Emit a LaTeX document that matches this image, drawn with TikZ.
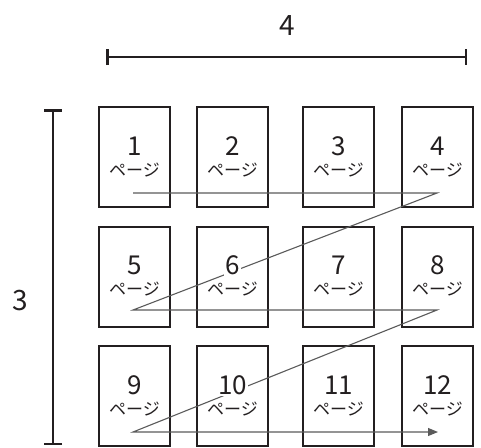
\documentclass[tikz,border=0pt]{standalone}
\usepackage{fontspec}
\setmainfont{Noto Sans CJK JP}
\usetikzlibrary{arrows.meta}
\definecolor{ink}{HTML}{231F20}
\definecolor{zig}{HTML}{5A5A5A}
\begin{document}
\begin{tikzpicture}[x=1pt,y=-1pt,
  page/.style={draw=ink,line width=2pt,minimum width=71pt,minimum height=100pt,inner sep=0pt},
  num/.style={font=\fontsize{26}{26}\selectfont,fill=white,inner sep=1.5pt,text=ink},
  pg/.style={font=\fontsize{17}{17}\selectfont,text=ink,inner sep=0pt},
  dim/.style={draw=ink,line width=2.5pt},
  dimlabel/.style={font=\fontsize{28}{28}\selectfont,text=ink},
  zigline/.style={draw=zig,line width=1.1pt}]
\useasboundingbox (0,0) rectangle (481,447);
% dimension lines
\coordinate (t1) at (106,57);
\coordinate (t2) at (467,57);
\draw[dim,{Bar[width=16pt]}-{Bar[width=16pt]}] (t1) -- (t2);
\node[dimlabel] (lab4) at (287,26) {4};
\coordinate (l1) at (53,109);
\coordinate (l2) at (53,445);
\draw[dim,{Bar[width=18pt]}-{Bar[width=18pt]}] (l1) -- (l2);
\node[dimlabel] (lab3) at (20,301) {3};
% pages
\foreach \i/\x/\y in {1/134.5/157,2/232.5/157,3/338.5/157,4/437.5/157,
                      5/134.5/276.5,6/232.5/276.5,7/338.5/276.5,8/437.5/276.5,
                      9/134.5/396,10/232.5/396,11/338.5/396,12/437.5/396}{
  \node[page] (b\i) at (\x,\y) {};
}
% zigzag
\coordinate (z1) at (133,193);
\coordinate (z2) at (437,193);
\coordinate (z3) at (133,310);
\coordinate (z4) at (437,310);
\coordinate (z5) at (133,432);
\coordinate (z6) at (438,432);
\draw[zigline,-{Triangle[length=10pt,width=8pt]}] (z1) -- (z2) -- (z3) -- (z4) -- (z5) -- (z6);
% labels
\foreach \i in {1,...,12}{
  \node[num] (n\i) at ([yshift=11pt]b\i.center) {\i};
  \node[pg] (p\i) at ([yshift=-13pt]b\i.center) {ページ};
}
\end{tikzpicture}
\end{document}
